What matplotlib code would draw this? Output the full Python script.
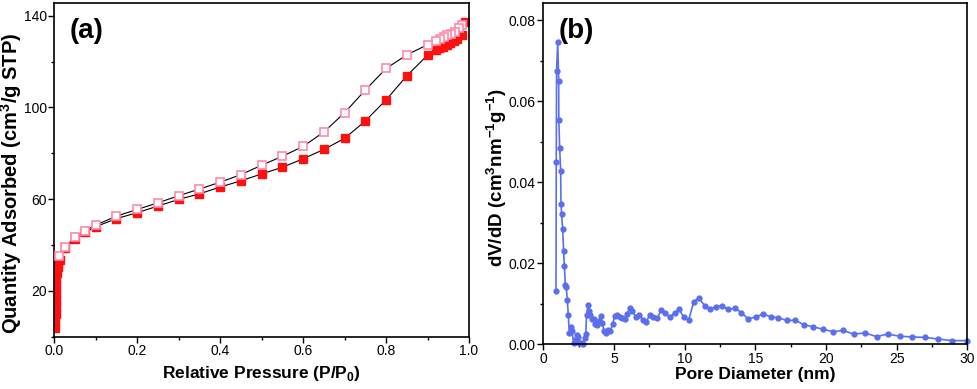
import matplotlib.pyplot as plt
from matplotlib.ticker import MultipleLocator

plt.rcParams['font.family'] = ['Liberation Sans', 'DejaVu Sans']
plt.rcParams['mathtext.fontset'] = 'custom'
plt.rcParams['mathtext.rm'] = 'Liberation Sans'
plt.rcParams['mathtext.bf'] = 'Liberation Sans:bold'

# (a) N2 isotherm
p_ads = [0.002, 0.0025, 0.003, 0.003, 0.0035, 0.004, 0.004, 0.005, 0.006, 0.008, 0.010, 0.013,
         0.025, 0.05, 0.075, 0.1, 0.15, 0.2, 0.25, 0.3, 0.35, 0.4, 0.45, 0.5, 0.55, 0.6,
         0.65, 0.7, 0.75, 0.8, 0.85, 0.9, 0.92, 0.928, 0.937, 0.946, 0.954, 0.964, 0.972,
         0.982, 0.99]
v_ads = [4, 7, 10, 13, 16, 19, 22, 25, 28, 30.5, 32, 33.5,
         38.5, 42.5, 45.5, 48, 51.5, 54.1, 57.0, 59.9, 62.3, 65.3, 68.0, 71.0, 73.9, 77.6,
         81.7, 86.5, 94.1, 103.3, 113.8, 122.8, 125.1, 125.8, 126.5, 127.4, 128.3, 129.0, 130.0,
         131.7, 137.1]
p_des = [0.984, 0.976, 0.966, 0.957, 0.947, 0.94, 0.93, 0.92, 0.9, 0.85, 0.8, 0.75, 0.7,
         0.65, 0.6, 0.55, 0.5, 0.45, 0.4, 0.35, 0.3, 0.25, 0.2, 0.15, 0.1, 0.075, 0.05,
         0.025, 0.011]
v_des = [136.0, 134.8, 133.1, 132.2, 131.5, 130.6, 129.7, 128.9, 127.4, 122.9, 117.0, 107.6, 97.7,
         89.3, 83.0, 78.7, 74.8, 70.7, 67.4, 64.4, 61.5, 58.4, 55.5, 52.6, 48.7, 46.3, 43.4,
         39.1, 35.1]

# (b) pore size distribution
d_pore = [0.90, 0.92, 0.94, 1.02, 1.09, 1.10, 1.16, 1.23, 1.25, 1.30, 1.37, 1.44, 1.49, 1.56,
          1.63, 1.70, 1.77, 1.84, 1.94, 2.01, 2.18, 2.27, 2.36, 2.48, 2.55, 2.67, 2.83, 2.94,
          3.01, 3.06, 3.18, 3.22, 3.34, 3.44, 3.60, 3.67, 3.81, 3.93, 4.05, 4.19, 4.28, 4.45,
          4.59, 4.75, 4.90, 5.06, 5.25, 5.41, 5.58, 5.75, 5.93, 6.12, 6.31, 6.54, 6.78, 7.06,
          7.30, 7.53, 7.77, 8.05, 8.36, 8.64, 8.95, 9.30, 9.61, 9.94, 10.29, 10.65, 11.00,
          11.43, 11.83, 12.25, 12.68, 13.10, 13.57, 14.02, 14.51, 15.03, 15.55, 16.09, 16.64,
          17.23, 17.84, 18.46, 19.12, 19.80, 20.51, 21.22, 21.97, 22.75, 23.58, 24.36, 25.23,
          26.10, 27.00, 27.94, 28.93, 29.95]
dvdd = [0.0132, 0.0451, 0.0675, 0.0746, 0.0650, 0.0554, 0.0484, 0.0428, 0.0347, 0.0321, 0.0284,
        0.0229, 0.0194, 0.0147, 0.0141, 0.0109, 0.0072, 0.0029, 0.0043, 0.0032, 0.0002, 0.0011,
        0.0023, 0.0019, 0.0004, 0.0002, 0.0000, 0.0016, 0.0025, 0.0072, 0.0097, 0.0083, 0.0072,
        0.0062, 0.0062, 0.0049, 0.0047, 0.0057, 0.0069, 0.0053, 0.0032, 0.0028, 0.0034, 0.0033,
        0.0050, 0.0069, 0.0072, 0.0068, 0.0064, 0.0062, 0.0075, 0.0090, 0.0082, 0.0068, 0.0072,
        0.0060, 0.0056, 0.0073, 0.0068, 0.0064, 0.0085, 0.0077, 0.0067, 0.0078, 0.0086, 0.0067,
        0.0060, 0.0105, 0.0114, 0.0095, 0.0088, 0.0093, 0.0095, 0.0086, 0.0089, 0.0078, 0.0062,
        0.0068, 0.0074, 0.0068, 0.0065, 0.0059, 0.0059, 0.0048, 0.0043, 0.0037, 0.0031, 0.0034,
        0.0025, 0.0028, 0.0019, 0.0025, 0.0020, 0.0018, 0.0017, 0.0013, 0.0009, 0.0009]

fig = plt.figure(figsize=(9.78, 3.89), dpi=100)
ax1 = fig.add_axes([0.0555, 0.1344, 0.4241, 0.8576])
ax2 = fig.add_axes([0.5555, 0.115, 0.4335, 0.877])

# panel (a)
ax1.plot(p_ads, v_ads, '-', color='black', lw=0.8, zorder=1)
ax1.plot(p_ads, v_ads, 's', color='#ff1010', ms=5.2, mec='#ff1010', zorder=2)
ax1.plot(p_des, v_des, '-', color='black', lw=0.8, zorder=3)
ax1.plot(p_des, v_des, 's', mfc='white', mec='#ff8aa8', mew=1.2, ms=5.2, zorder=4)
ax1.set_xlim(0, 1.0)
ax1.set_ylim(0, 145.5)
ax1.set_yticks([20, 60, 100, 140])
ax1.yaxis.set_minor_locator(MultipleLocator(20))
ax1.xaxis.set_major_locator(MultipleLocator(0.2))
ax1.xaxis.set_minor_locator(MultipleLocator(0.1))
ax1.set_xlabel('Relative Pressure (P/P$_\\mathbf{0}$)', fontsize=12.5, fontweight='bold', labelpad=4)
ax1.set_ylabel('Quantity Adsorbed (cm$^\\mathbf{3}$/g STP)', fontsize=14.5, fontweight='bold')
ax1.yaxis.set_label_coords(-0.073, 0.46)
ax1.text(0.037, 0.955, '(a)', transform=ax1.transAxes, fontsize=20, fontweight='bold', va='top')

# panel (b)
ax2.plot(d_pore, dvdd, '-o', color='#5b6ef0', lw=1.2, ms=3.5, clip_on=False)
ax2.set_xlim(0, 30)
ax2.set_ylim(0, 0.0842)
ax2.xaxis.set_major_locator(MultipleLocator(5))
ax2.xaxis.set_minor_locator(MultipleLocator(2.5))
ax2.yaxis.set_major_locator(MultipleLocator(0.02))
ax2.yaxis.set_minor_locator(MultipleLocator(0.01))
ax2.yaxis.set_major_formatter(plt.FormatStrFormatter('%.2f'))
ax2.set_xlabel('Pore Diameter (nm)', fontsize=12.5, fontweight='bold', labelpad=1)
ax2.set_ylabel('dV/dD (cm$^\\mathbf{3}$nm$^\\mathbf{-1}$g$^\\mathbf{-1}$)', fontsize=13.5,
               fontweight='bold')
ax2.yaxis.set_label_coords(-0.081, 0.49)
ax2.text(0.037, 0.955, '(b)', transform=ax2.transAxes, fontsize=20, fontweight='bold', va='top')

for ax in (ax1, ax2):
    ax.tick_params(which='major', direction='out', length=4, width=1, labelsize=10, pad=1.5)
    ax.tick_params(which='minor', direction='out', length=2.5, width=1)
    for s in ax.spines.values():
        s.set_linewidth(1.2)

fig.savefig('out.png', dpi=100)
